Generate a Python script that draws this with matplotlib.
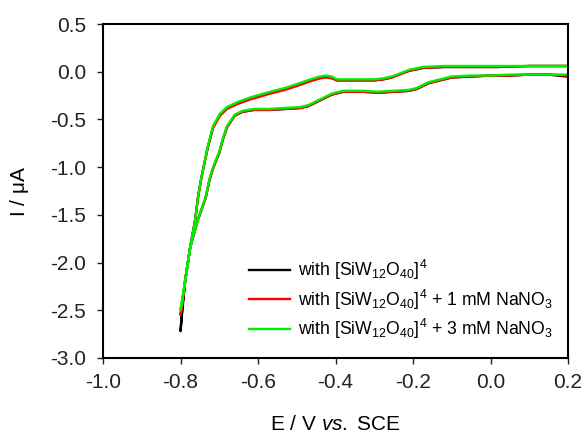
import matplotlib.pyplot as plt

plt.rcParams['font.family'] = ['Liberation Sans', 'DejaVu Sans']
plt.rcParams['mathtext.fontset'] = 'custom'
plt.rcParams['mathtext.rm'] = 'Liberation Sans'
plt.rcParams['mathtext.it'] = 'Liberation Sans:italic'

# cathodic sweep, 0.2 V -> -0.8 V
E_fwd = [0.195, 0.15, 0.10, 0.05, 0.0, -0.05, -0.10, -0.13, -0.16, -0.19,
         -0.21, -0.25, -0.29, -0.33, -0.38, -0.41, -0.44, -0.47, -0.49, -0.53,
         -0.57, -0.61, -0.64, -0.66, -0.68, -0.69, -0.70, -0.715, -0.725, -0.735,
         -0.755, -0.775, -0.788, -0.796, -0.80]
# anodic sweep, -0.8 V -> 0.2 V
E_rev = [-0.80, -0.795, -0.788, -0.775, -0.762, -0.755, -0.747, -0.742, -0.73, -0.716,
         -0.705, -0.698, -0.68, -0.654, -0.62, -0.569, -0.53, -0.50, -0.465, -0.44,
         -0.425, -0.41, -0.396, -0.35, -0.30, -0.277, -0.255, -0.241, -0.21, -0.174,
         -0.12, -0.05, 0.02, 0.10, 0.195]

I_fwd_0 = [-0.05, -0.03, -0.03, -0.04, -0.04, -0.05, -0.06, -0.09, -0.12, -0.18,
           -0.20, -0.21, -0.22, -0.21, -0.21, -0.24, -0.30, -0.36, -0.38, -0.39,
           -0.40, -0.40, -0.42, -0.46, -0.58, -0.70, -0.85, -1.00, -1.13, -1.32,
           -1.55, -1.84, -2.19, -2.53, -2.72]
I_rev_0 = [-2.72, -2.45, -2.19, -1.84, -1.55, -1.32, -1.13, -1.03, -0.80, -0.58,
           -0.50, -0.45, -0.38, -0.33, -0.28, -0.22, -0.18, -0.14, -0.09, -0.06,
           -0.05, -0.06, -0.09, -0.09, -0.09, -0.08, -0.06, -0.035, 0.01, 0.04,
           0.05, 0.05, 0.05, 0.06, 0.06]

I_fwd_1 = [-0.04, -0.03, -0.03, -0.04, -0.04, -0.05, -0.06, -0.09, -0.12, -0.18,
           -0.20, -0.21, -0.22, -0.21, -0.21, -0.24, -0.30, -0.36, -0.38, -0.39,
           -0.40, -0.40, -0.42, -0.46, -0.58, -0.70, -0.85, -1.00, -1.13, -1.32,
           -1.55, -1.84, -2.19, -2.45, -2.55]
I_rev_1 = [-2.55, -2.40, -2.19, -1.84, -1.55, -1.32, -1.13, -1.03, -0.80, -0.59,
           -0.51, -0.46, -0.39, -0.34, -0.29, -0.23, -0.19, -0.15, -0.10, -0.07,
           -0.06, -0.07, -0.09, -0.09, -0.09, -0.08, -0.06, -0.04, 0.01, 0.04,
           0.05, 0.05, 0.05, 0.06, 0.06]

I_fwd_3 = [-0.03, -0.03, -0.03, -0.03, -0.04, -0.04, -0.05, -0.08, -0.11, -0.17,
           -0.19, -0.20, -0.21, -0.20, -0.20, -0.23, -0.29, -0.35, -0.37, -0.38,
           -0.39, -0.39, -0.41, -0.45, -0.57, -0.69, -0.84, -0.99, -1.12, -1.31,
           -1.55, -1.84, -2.19, -2.40, -2.50]
I_rev_3 = [-2.50, -2.38, -2.19, -1.84, -1.55, -1.32, -1.13, -1.03, -0.79, -0.57,
           -0.49, -0.44, -0.37, -0.32, -0.27, -0.21, -0.17, -0.13, -0.08, -0.05,
           -0.04, -0.05, -0.08, -0.08, -0.08, -0.07, -0.05, -0.03, 0.02, 0.05,
           0.06, 0.06, 0.06, 0.06, 0.06]

labels = [r'with [SiW$_{12}$O$_{40}$]$^{4}$',
          r'with [SiW$_{12}$O$_{40}$]$^{4}$ + 1 mM NaNO$_{3}$',
          r'with [SiW$_{12}$O$_{40}$]$^{4}$ + 3 mM NaNO$_{3}$']
colors = ['black', '#ff0000', '#00ee00']

fig = plt.figure(figsize=(5.82, 4.37), dpi=100)
ax = fig.add_axes([0.177, 0.181, 0.799, 0.764])

for I_f, I_r, c, lab in zip([I_fwd_0, I_fwd_1, I_fwd_3], [I_rev_0, I_rev_1, I_rev_3],
                            colors, labels):
    ax.plot(E_fwd + E_rev, I_f + I_r, color=c, lw=1.7, label=lab)

ax.set_xlim(-1.0, 0.2)
ax.set_ylim(-3.0, 0.5)
ax.set_xticks([-1.0, -0.8, -0.6, -0.4, -0.2, 0.0, 0.2])
ax.set_yticks([-3.0, -2.5, -2.0, -1.5, -1.0, -0.5, 0.0, 0.5])
ax.xaxis.set_major_formatter(plt.FormatStrFormatter('%.1f'))
ax.yaxis.set_major_formatter(plt.FormatStrFormatter('%.1f'))
ax.tick_params(direction='out', length=4, width=1, labelsize=15, colors='#222222')
ax.tick_params(axis='x', pad=7)
ax.tick_params(axis='y', pad=8)
for s in ax.spines.values():
    s.set_linewidth(1.5)

ax.set_xlabel(r'E / V $\it{vs.}$ SCE', fontsize=15)
ax.set_ylabel(r'I / $\mathrm{\mu}$A', fontsize=15)
ax.xaxis.set_label_coords(0.5, -0.172)
ax.yaxis.set_label_coords(-0.155, 0.5)

ax.legend(loc='upper left', bbox_to_anchor=(0.314, 0.299), frameon=False,
          fontsize=12.7, handlelength=2.3, labelspacing=0.3, handletextpad=0.46,
          borderpad=0, borderaxespad=0)

fig.savefig('out.png', dpi=100)
